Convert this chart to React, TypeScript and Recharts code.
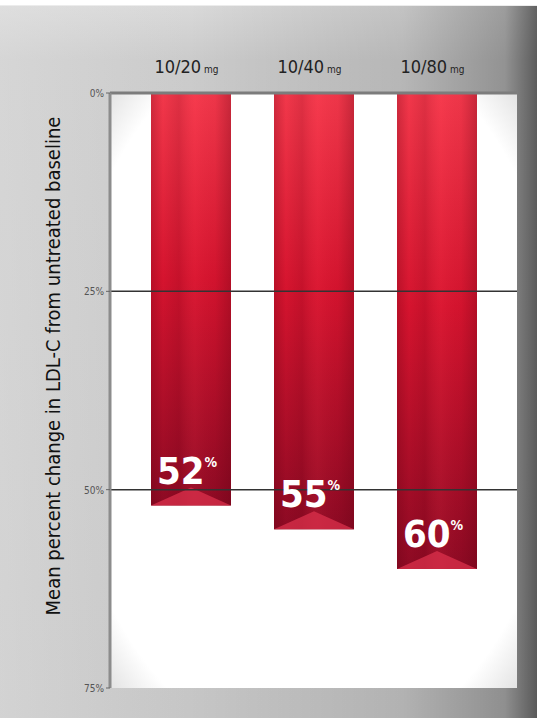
import React from "react";
import {
  BarChart,
  Bar,
  XAxis,
  YAxis,
  CartesianGrid,
  ReferenceLine,
  LabelList,
} from "recharts";

const doses = ["10/20", "10/40", "10/80"];
const reductions = [52, 55, 60];
const yTicks = [0, 25, 50, 75];

const data = doses.map((d, i) => ({ dose: d, value: reductions[i] }));

const narrow = "'Liberation Sans Narrow', 'DejaVu Sans', sans-serif";

const DoseTick = (props: any) => {
  const { x, y, payload } = props;
  return (
    <text
      x={x - 4}
      y={y - 12}
      textAnchor="middle"
      fill="#222"
      fontFamily={narrow}
      style={{ fontStretch: "condensed" }}
    >
      <tspan fontSize={18}>{payload.value}</tspan>
      <tspan fontSize={10} dx={3}>mg</tspan>
    </text>
  );
};

const PctTick = (props: any) => {
  const { x, y, payload } = props;
  return (
    <text
      x={x}
      y={y + 4}
      textAnchor="end"
      fill="#555"
      fontSize={10}
      fontFamily={narrow}
      style={{ fontStretch: "condensed" }}
    >
      {payload.value}%
    </text>
  );
};

const RibbonBar = (props: any) => {
  const { x, y, width, height } = props;
  const top = Math.min(y, y + height);
  const h = Math.abs(height);
  const bottom = top + h;
  return (
    <g>
      <rect x={x} y={top} width={width} height={h} fill="url(#barV)" />
      <rect x={x} y={top} width={width} height={h} fill="url(#barH)" />
      <path
        d={`M${x},${bottom} L${x + width / 2},${bottom - 18} L${x + width},${bottom} Z`}
        fill="#e0334f"
        opacity={0.7}
      />
    </g>
  );
};

const ValueLabel = (props: any) => {
  const { x, y, width, height, value } = props;
  const bottom = Math.max(y, y + height);
  return (
    <text
      x={x + width / 2 - 4}
      y={bottom - 22}
      textAnchor="middle"
      fill="#fff"
      fontFamily={narrow}
      fontWeight="bold"
      style={{ fontStretch: "condensed" }}
    >
      <tspan fontSize={38}>{value}</tspan>
      <tspan fontSize={14} dy={-17}>%</tspan>
    </text>
  );
};

const AxisTitle = () => (
  <text
    x={60}
    y={366}
    transform="rotate(-90 60 366)"
    textAnchor="middle"
    fill="#111"
    fontSize={20}
    fontFamily={narrow}
    style={{ fontStretch: "condensed" }}
  >
    Mean percent change in LDL-C from untreated baseline
  </text>
);

export default function App() {
  return (
    <div
      style={{
        position: "absolute",
        left: 0,
        top: 0,
        width: 537,
        height: 718,
        background:
          "linear-gradient(to bottom, #ffffff 0px, #ffffff 5px, #d9d9d9 6px, #cbcbcb 60px, #c6c6c6 100%)",
      }}
    >
      <div
        style={{
          position: "absolute",
          left: 0,
          right: 0,
          bottom: 0,
          top: 6,
          background:
            "linear-gradient(to right, rgba(230,230,230,0.4) 0%, rgba(0,0,0,0) 35%, rgba(0,0,0,0.1) 75%, rgba(0,0,0,0.28) 94%, rgba(0,0,0,0.55) 100%)",
        }}
      />
      <BarChart
        width={537}
        height={718}
        data={data}
        margin={{ top: 58, right: 20, bottom: 30, left: 0 }}
        style={{ position: "absolute", left: 0, top: 0 }}
      >
        <defs>
          <linearGradient id="barV" x1="0" y1="0" x2="0" y2="1">
            <stop offset="0%" stopColor="#f5394c" />
            <stop offset="45%" stopColor="#d8142f" />
            <stop offset="100%" stopColor="#8e0a24" />
          </linearGradient>
          <linearGradient id="barH" x1="0" y1="0" x2="1" y2="0">
            <stop offset="0%" stopColor="#5a0010" stopOpacity={0.25} />
            <stop offset="15%" stopColor="#5a0010" stopOpacity={0.02} />
            <stop offset="35%" stopColor="#5a0010" stopOpacity={0.15} />
            <stop offset="55%" stopColor="#ff5060" stopOpacity={0.08} />
            <stop offset="80%" stopColor="#5a0010" stopOpacity={0.05} />
            <stop offset="100%" stopColor="#5a0010" stopOpacity={0.3} />
          </linearGradient>
          <radialGradient id="plotBg" cx="0.5" cy="0.5" r="0.75">
            <stop offset="0%" stopColor="#ffffff" />
            <stop offset="82%" stopColor="#ffffff" />
            <stop offset="100%" stopColor="#d6d6d6" />
          </radialGradient>
        </defs>
        <CartesianGrid
          fill="url(#plotBg)"
          stroke="none"
          vertical={false}
          horizontal={false}
        />
        <XAxis
          dataKey="dose"
          orientation="top"
          height={35}
          axisLine={false}
          tickLine={false}
          tick={<DoseTick />}
          padding={{ left: 19, right: 19 }}
        />
        <YAxis
          type="number"
          domain={[0, 75]}
          ticks={yTicks}
          reversed
          width={110}
          axisLine={{ stroke: "#8c8c8c", strokeWidth: 3 }}
          tickLine={{ stroke: "#666" }}
          tickSize={4}
          tick={<PctTick />}
        />
        <ReferenceLine y={0} stroke="#7c7c7c" strokeWidth={3} />
        <ReferenceLine y={25} stroke="#333" strokeWidth={1.5} />
        <ReferenceLine y={50} stroke="#333" strokeWidth={1.5} />
        <Bar dataKey="value" barSize={80} shape={<RibbonBar />} isAnimationActive={false}>
          <LabelList dataKey="value" content={<ValueLabel />} />
        </Bar>
        <AxisTitle />
      </BarChart>
    </div>
  );
}
